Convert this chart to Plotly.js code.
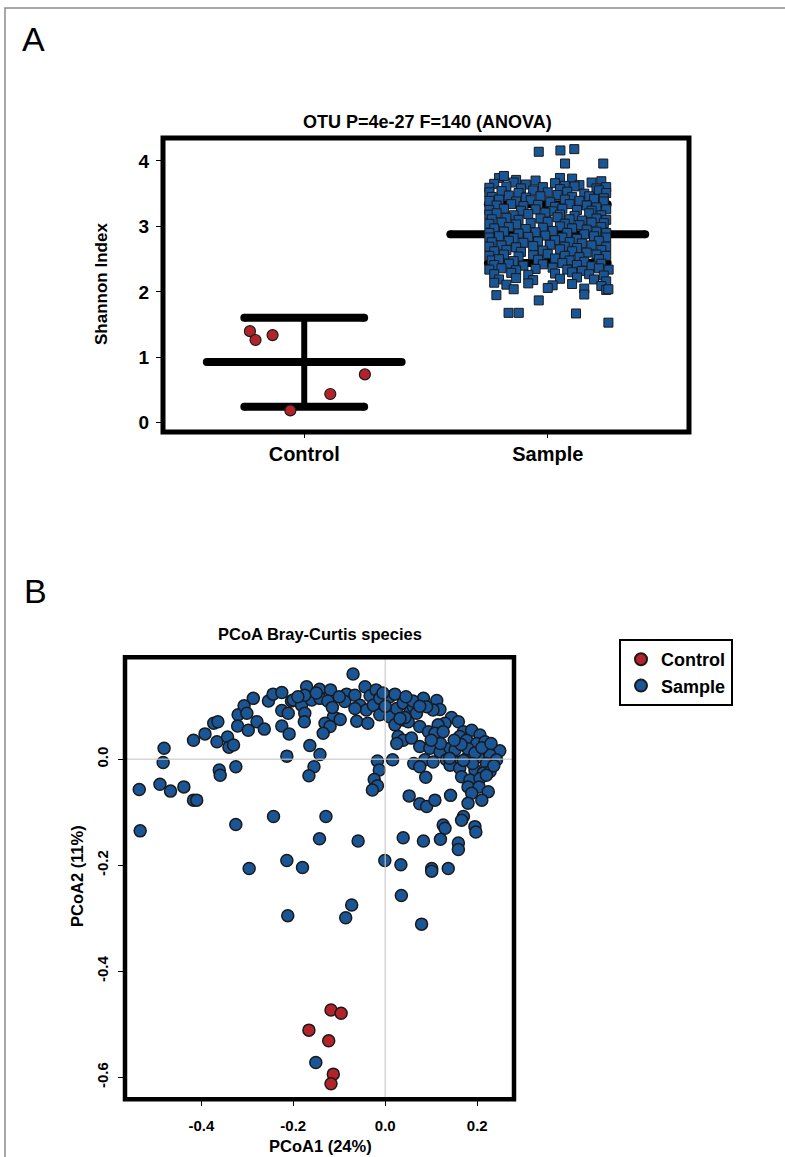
<!DOCTYPE html>
<html><head><meta charset="utf-8">
<script src="https://cdn.plot.ly/plotly-3.0.1.min.js"></script>
<style>html,body{margin:0;padding:0;background:#fff}#chart{width:785px;height:1157px}</style>
</head><body><div id="chart"></div>
<script>
// ---------- Panel A data ----------
const groups = ['Control', 'Sample'];
const groupPos = [1, 2];
const groupMean = [0.93, 2.88];
const groupLower = [0.245, 2.44];
const groupUpper = [1.606, 3.34];

const controlX = [0.777, 0.80, 0.87, 1.249, 1.107, 0.943];
const controlShannon = [1.40, 1.265, 1.34, 0.74, 0.44, 0.19];

// [offset from group position, Shannon index]
const samplePoints = [
[-0.20,3.74],[-0.05,3.70],[0.10,3.73],[0.22,3.69],[-0.13,3.71],[-0.18,3.77],[0.05,3.74],
[-0.22,3.65],[-0.14,3.67],[-0.09,3.64],[0.03,3.66],[0.13,3.63],[0.18,3.67],[0.07,3.62],
[-0.24,3.59],[-0.17,3.61],[-0.11,3.58],[-0.02,3.60],[0.05,3.57],[0.11,3.61],[0.20,3.58],[0.24,3.60],
[-0.24,3.52],[-0.19,3.54],[-0.12,3.51],[-0.06,3.55],[0.00,3.52],[0.08,3.53],[0.15,3.50],[0.21,3.55],[0.24,3.51],
[-0.23,3.45],[-0.16,3.47],[-0.09,3.44],[-0.03,3.46],[0.04,3.48],[0.10,3.45],[0.17,3.46],[0.23,3.43],
[-0.24,3.39],[-0.20,3.41],[-0.13,3.38],[-0.07,3.40],[0.01,3.37],[0.07,3.41],[0.13,3.39],[0.19,3.42],[0.23,3.38],
[-0.21,3.32],[-0.15,3.34],[-0.10,3.31],[-0.04,3.33],[0.03,3.30],[0.09,3.34],[0.16,3.32],[0.20,3.29],
[-0.24,3.25],[-0.18,3.27],[-0.11,3.24],[-0.05,3.26],[0.02,3.23],[0.06,3.27],[0.12,3.25],[0.18,3.24],[0.24,3.26],
[-0.24,3.18],[-0.21,3.20],[-0.14,3.17],[-0.08,3.19],[-0.01,3.21],[0.05,3.18],[0.11,3.16],[0.17,3.20],[0.22,3.17],
[-0.23,3.11],[-0.17,3.13],[-0.12,3.10],[-0.03,3.12],[0.04,3.14],[0.09,3.11],[0.14,3.09],[0.20,3.12],[0.24,3.10],
[-0.24,3.04],[-0.19,3.06],[-0.13,3.03],[-0.07,3.05],[0.00,3.07],[0.07,3.04],[0.13,3.02],[0.18,3.06],[0.23,3.05],
[-0.22,2.97],[-0.16,2.99],[-0.09,2.96],[-0.02,2.98],[0.05,3.00],[0.10,2.97],[0.16,2.95],[0.22,2.99],
[-0.24,2.90],[-0.18,2.92],[-0.12,2.89],[-0.05,2.91],[0.02,2.93],[0.08,2.90],[0.15,2.88],[0.20,2.92],[0.24,2.90],
[-0.24,2.83],[-0.20,2.85],[-0.14,2.82],[-0.08,2.84],[-0.01,2.86],[0.06,2.83],[0.12,2.81],[0.19,2.85],[0.24,2.83],
[-0.23,2.76],[-0.16,2.78],[-0.10,2.75],[-0.04,2.77],[0.03,2.79],[0.09,2.76],[0.14,2.74],[0.21,2.78],
[-0.24,2.69],[-0.19,2.71],[-0.13,2.68],[-0.06,2.70],[0.01,2.72],[0.07,2.69],[0.12,2.67],[0.18,2.71],[0.24,2.69],
[-0.22,2.62],[-0.17,2.64],[-0.11,2.61],[-0.02,2.63],[0.05,2.65],[0.10,2.62],[0.16,2.60],[0.22,2.64],
[-0.24,2.55],[-0.18,2.57],[-0.12,2.54],[-0.06,2.56],[0.00,2.58],[0.07,2.55],[0.13,2.53],[0.20,2.57],[0.24,2.55],
[-0.23,2.48],[-0.20,2.50],[-0.14,2.47],[-0.04,2.49],[0.03,2.51],[0.09,2.48],[0.15,2.46],[0.21,2.50],
[-0.22,2.41],[-0.16,2.43],[-0.10,2.40],[-0.02,2.42],[0.06,2.44],[0.12,2.41],[0.18,2.39],[0.22,2.43],
[-0.24,2.34],[-0.19,2.36],[-0.13,2.33],[-0.05,2.35],[0.02,2.37],[0.08,2.34],[0.14,2.32],[0.21,2.36],[0.25,2.34],
[-0.22,2.27],[-0.15,2.29],[-0.08,2.26],[0.03,2.28],[0.10,2.30],[0.17,2.27],[0.23,2.25],
[-0.20,2.19],[-0.13,2.21],[-0.06,2.18],[0.05,2.20],[0.12,2.22],[0.19,2.19],[0.24,2.16],
[-0.17,2.11],[-0.08,2.13],[0.02,2.10],[0.10,2.12],[0.22,2.09],[-0.22,2.14],
[-0.14,2.04],[0.00,2.06],[0.24,2.03],[0.15,2.05],
[-0.037,4.14],[0.052,4.16],[0.109,4.18],[0.071,3.96],[0.228,3.96],
[-0.211,1.95],[-0.161,1.68],[-0.119,1.68],[0.116,1.67],[0.249,1.53],[-0.037,1.87],[0.150,1.96],[0.249,2.04]
];

// ---------- Panel B data (PCoA coordinates) ----------
const pcoaControl = [[-0.118,-0.473],[-0.096,-0.479],[-0.166,-0.511],[-0.123,-0.531],[-0.113,-0.594],[-0.118,-0.612]];
const pcoaSample = [
[-0.535,-0.057],[-0.490,-0.047],[-0.467,-0.060],[-0.438,-0.052],[-0.417,-0.077],[-0.410,-0.077],
[-0.481,0.021],[-0.483,-0.006],[-0.417,0.036],[-0.392,0.048],[-0.373,0.068],[-0.364,0.071],
[-0.366,0.033],[-0.343,0.042],[-0.340,0.023],[-0.330,0.027],[-0.361,-0.020],[-0.359,-0.030],
[-0.325,-0.014],[-0.320,0.084],[-0.321,0.063],[-0.307,0.101],[-0.301,0.087],[-0.298,0.055],
[-0.287,0.115],[-0.279,0.071],[-0.263,0.057],[-0.254,0.110],[-0.244,0.123],[-0.225,0.126],
[-0.214,0.006],[-0.225,0.092],[-0.211,0.087],[-0.225,0.063],[-0.209,0.048],[-0.204,0.110],
[-0.070,0.161],[-0.171,0.137],[-0.143,0.132],[-0.119,0.131],[-0.200,0.112],[-0.182,0.102],
[-0.175,0.087],[-0.176,0.071],[-0.160,0.112],[-0.142,0.115],[-0.084,0.123],[-0.088,0.109],
[-0.066,0.121],[-0.044,0.137],[-0.033,0.120],[-0.020,0.131],[-0.055,0.102],[-0.041,0.093],
[-0.026,0.102],[-0.012,0.115],[-0.066,0.096],[-0.062,0.072],[-0.038,0.068],[-0.012,0.084],
[0.010,0.118],[0.021,0.123],[0.010,0.080],[0.021,0.065],[0.025,0.096],[0.039,0.106],[0.054,0.090],[0.061,0.099],
[0.039,0.074],[0.050,0.071],[0.028,0.043],[0.039,0.036],[0.057,0.040],[0.025,0.030],
[-0.106,0.077],[-0.113,0.080],[-0.131,0.068],[-0.120,0.062],[-0.135,0.049],[-0.098,0.075],
[-0.164,0.026],[-0.142,0.009],[-0.155,-0.014],[-0.166,-0.031],
[-0.017,-0.003],[-0.013,-0.020],[-0.024,-0.038],[-0.017,-0.050],[-0.028,-0.058],
[0.016,-0.001],[0.052,-0.069],[0.062,-0.008],[-0.175,0.121],
[0.083,0.115],[0.112,0.111],[0.119,0.094],[0.104,0.093],[0.090,0.099],
[0.068,0.087],[0.043,0.079],[0.032,0.077],
[0.144,0.079],[0.159,0.071],[0.130,0.068],[0.115,0.065],
[0.075,0.062],[0.094,0.052],[0.108,0.049],[0.126,0.052],
[0.170,0.052],[0.188,0.055],[0.206,0.046],[0.162,0.043],[0.177,0.036],[0.199,0.030],[0.217,0.033],
[0.235,0.018],[0.249,0.016],[0.228,0.008],[0.242,-0.001],
[0.075,0.024],[0.097,0.021],[0.119,0.014],[0.141,0.021],[0.152,0.018],
[0.086,-0.001],[0.104,-0.005],[0.133,-0.001],[0.155,-0.005],[0.177,0.002],[0.202,0.005],[0.220,-0.008],
[0.075,-0.014],[0.141,-0.011],[0.162,-0.017],[0.195,-0.020],[0.213,-0.026],[0.228,-0.023],
[0.088,-0.034],[0.166,-0.033],[0.184,-0.039],[0.206,-0.036],[0.220,-0.030],
[0.180,-0.052],[0.204,-0.052],[0.188,-0.064],[0.224,-0.061],
[0.075,-0.084],[0.090,-0.089],[0.108,-0.077],[0.142,-0.068],
[0.180,-0.083],[0.210,-0.077],
[0.170,-0.108],[0.166,-0.115],[0.126,-0.124],[0.130,-0.130],[0.195,-0.127],[0.197,-0.137],
[0.159,-0.158],[0.159,-0.170],[0.120,-0.151],[0.083,-0.154],[0.039,-0.148],
[0.101,-0.206],[0.101,-0.211],[0.137,-0.206],[0.034,-0.199],[-0.001,-0.191],[-0.059,-0.154],
[-0.143,-0.150],[-0.129,-0.108],[-0.243,-0.108],[-0.214,-0.191],[-0.180,-0.204],
[-0.533,-0.135],[-0.325,-0.123],[-0.296,-0.206],[-0.212,-0.295],[-0.073,-0.275],[-0.086,-0.299],
[0.035,-0.257],[0.079,-0.311],[-0.151,-0.572],
[0.180,0.020],[0.195,0.012],[0.210,0.022],[0.165,0.028],[0.230,0.030],[0.150,0.036],
[0.190,-0.008],[0.170,-0.002],[0.236,-0.012],[0.120,0.030],[0.100,0.036],[0.140,0.002],
[0.060,0.110],[0.075,0.100],[0.000,0.100],[-0.005,0.125],[0.045,0.118],
[-0.100,0.118],[-0.125,0.110],[-0.150,0.125],[-0.190,0.118],[-0.115,0.098]
];

// ---------- styling ----------
const W = 785, H = 1157;
const FONT = 'Liberation Sans, Arial, Helvetica, sans-serif';
const RED = '#B3242A', BLUE = '#1A5596', EDGE = '#1a1a1a';
const px = v => v / W;
const py = v => 1 - v / H;

const traces = [];
// mean / sd bars (panel A)
const MEAN_HALF = 0.40, SD_HALF = 0.246;
groupPos.forEach((g, i) => {
  const bar = (half, y, w) => ({
    type: 'scatter', mode: 'lines+markers', xaxis: 'x', yaxis: 'y', showlegend: false, hoverinfo: 'skip',
    x: [g - half, g + half], y: [y, y],
    line: {color: '#000', width: w}, marker: {color: '#000', size: w, line: {width: 0}}
  });
  traces.push({
    type: 'scatter', mode: 'lines', xaxis: 'x', yaxis: 'y', showlegend: false, hoverinfo: 'skip',
    x: [g, g], y: [groupLower[i], groupUpper[i]], line: {color: '#000', width: 6}
  });
  traces.push(bar(MEAN_HALF, groupMean[i], 8));
  traces.push(bar(SD_HALF, groupUpper[i], 8));
  traces.push(bar(SD_HALF, groupLower[i], 8));
});
traces.push({
  type: 'scatter', mode: 'markers', xaxis: 'x', yaxis: 'y', showlegend: false, name: 'Control',
  x: controlX, y: controlShannon,
  marker: {symbol: 'circle', size: 11, color: RED, line: {color: EDGE, width: 1.2}}
});
traces.push({
  type: 'scatter', mode: 'markers', xaxis: 'x', yaxis: 'y', showlegend: false, name: 'Sample',
  x: samplePoints.map(p => groupPos[1] + p[0]), y: samplePoints.map(p => p[1]),
  marker: {symbol: 'square', size: 9, color: BLUE, line: {color: EDGE, width: 1}}
});
// panel B
traces.push({
  type: 'scatter', mode: 'markers', xaxis: 'x2', yaxis: 'y2', name: 'Sample', showlegend: true, legendrank: 2,
  x: pcoaSample.map(p => p[0]), y: pcoaSample.map(p => p[1]),
  marker: {symbol: 'circle', size: 12, color: BLUE, line: {color: EDGE, width: 1.5}}
});
traces.push({
  type: 'scatter', mode: 'markers', xaxis: 'x2', yaxis: 'y2', name: 'Control', showlegend: true, legendrank: 1,
  x: pcoaControl.map(p => p[0]), y: pcoaControl.map(p => p[1]),
  marker: {symbol: 'circle', size: 12, color: RED, line: {color: EDGE, width: 1.5}}
});

const tickFontA = {family: FONT, size: 19, color: '#000', weight: 'bold'};
const tickFontB = {family: FONT, size: 15, color: '#000', weight: 'bold'};
const baseAxis = {showgrid: false, zeroline: false, showline: false, ticks: 'outside', ticklen: 6, tickwidth: 1, tickcolor: '#000', fixedrange: true};

const layout = {
  width: W, height: H, margin: {l: 0, r: 0, t: 0, b: 0},
  paper_bgcolor: '#fff', plot_bgcolor: '#fff',
  font: {family: FONT, color: '#000'},
  xaxis: Object.assign({}, baseAxis, {domain: [px(163), px(689)], range: [0.42, 2.58], anchor: 'y',
    tickvals: groupPos, ticktext: groups, tickfont: {family: FONT, size: 20, color: '#000', weight: 'bold'}, ticklen: 5, ticklabelstandoff: -1}),
  yaxis: Object.assign({}, baseAxis, {domain: [py(432), py(138)], range: [-0.14, 4.35], anchor: 'x',
    tickvals: [0, 1, 2, 3, 4], ticktext: ['0', '1', '2', '3', '4'], tickfont: tickFontA, ticklabelstandoff: 3}),
  xaxis2: Object.assign({}, baseAxis, {domain: [px(125), px(514)], range: [-0.566, 0.28], anchor: 'y2',
    tickvals: [-0.4, -0.2, 0, 0.2], ticktext: ['-0.4', '-0.2', '0.0', '0.2'], tickfont: tickFontB, ticklabelstandoff: 7}),
  yaxis2: Object.assign({}, baseAxis, {domain: [py(1099.3), py(657.3)], range: [-0.6415, 0.1925], anchor: 'x2',
    tickvals: [-0.6, -0.4, -0.2, 0], ticktext: ['-0.6', '-0.4', '-0.2', '0.0'], tickangle: -90, tickfont: tickFontB, ticklabelstandoff: 4}),
  showlegend: true,
  legend: {x: px(619), y: py(639), xanchor: 'left', yanchor: 'top', bgcolor: '#fff', bordercolor: '#000', borderwidth: 2,
    font: {family: FONT, size: 18, color: '#000', weight: 'bold'}, itemsizing: 'constant', tracegroupgap: 0, traceorder: 'normal'},
  shapes: [
    {type: 'rect', xref: 'paper', yref: 'paper', x0: px(5), x1: 1.05, y0: -0.05, y1: py(8), line: {color: '#8a8a8a', width: 1.5}, layer: 'below'},
    {type: 'line', xref: 'x2', yref: 'y2 domain', x0: 0, x1: 0, y0: 0, y1: 1, line: {color: 'rgba(200,200,200,0.75)', width: 1.5}, layer: 'above'},
    {type: 'line', xref: 'x2 domain', yref: 'y2', x0: 0, x1: 1, y0: 0, y1: 0, line: {color: 'rgba(200,200,200,0.75)', width: 1.5}, layer: 'above'},
    {type: 'rect', xref: 'paper', yref: 'paper', x0: px(163), x1: px(689), y0: py(432), y1: py(138), line: {color: '#000', width: 5}, layer: 'above'},
    {type: 'rect', xref: 'paper', yref: 'paper', x0: px(125), x1: px(514), y0: py(1099.3), y1: py(657.3), line: {color: '#000', width: 4.5}, layer: 'above'}
  ],
  annotations: [
    {text: 'A', xref: 'paper', yref: 'paper', x: px(20), y: py(39), xanchor: 'left', yanchor: 'middle', showarrow: false, font: {family: FONT, size: 34, color: '#000'}},
    {text: 'B', xref: 'paper', yref: 'paper', x: px(22), y: py(591), xanchor: 'left', yanchor: 'middle', showarrow: false, font: {family: FONT, size: 34, color: '#000'}},
    {text: 'OTU P=4e-27 F=140 (ANOVA)', xref: 'paper', yref: 'paper', x: px(427), y: py(122), xanchor: 'center', yanchor: 'middle', showarrow: false, font: {family: FONT, size: 18, color: '#000', weight: 'bold'}},
    {text: 'Shannon Index', xref: 'paper', yref: 'paper', x: px(101), y: py(284), xanchor: 'center', yanchor: 'middle', textangle: -90, showarrow: false, font: {family: FONT, size: 17, color: '#000', weight: 'bold'}},
    {text: 'PCoA Bray-Curtis species', xref: 'paper', yref: 'paper', x: px(320), y: py(634), xanchor: 'center', yanchor: 'middle', showarrow: false, font: {family: FONT, size: 16.5, color: '#000', weight: 'bold'}},
    {text: 'PCoA2 (11%)', xref: 'paper', yref: 'paper', x: px(77), y: py(876), xanchor: 'center', yanchor: 'middle', textangle: -90, showarrow: false, font: {family: FONT, size: 16.5, color: '#000', weight: 'bold'}},
    {text: 'PCoA1 (24%)', xref: 'paper', yref: 'paper', x: px(320), y: py(1146), xanchor: 'center', yanchor: 'middle', showarrow: false, font: {family: FONT, size: 16.5, color: '#000', weight: 'bold'}}
  ]
};

Plotly.newPlot('chart', traces, layout, {displayModeBar: false, staticPlot: true});
</script>
</body></html>
